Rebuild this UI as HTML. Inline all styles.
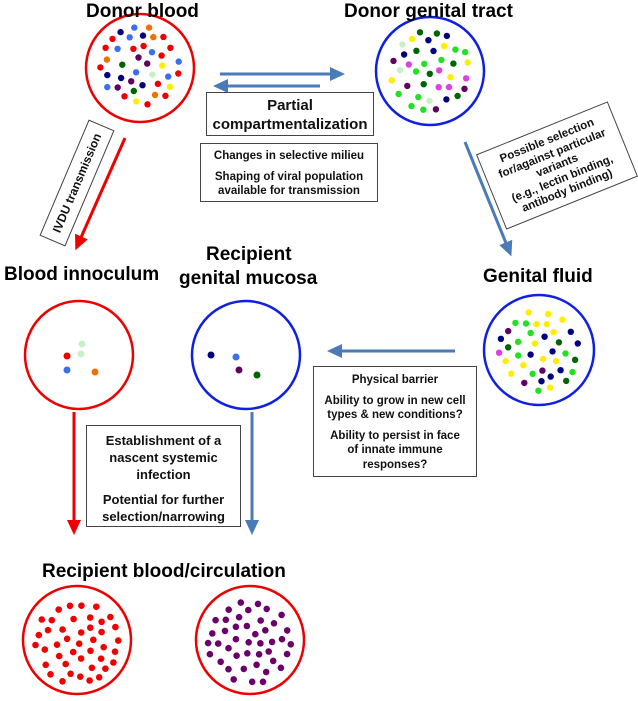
<!DOCTYPE html>
<html><head><meta charset="utf-8"><style>
html,body{margin:0;padding:0;background:#fff;}
body{width:638px;height:701px;position:relative;overflow:hidden;font-family:"Liberation Sans",Arial,sans-serif;}
svg{position:absolute;left:0;top:0;}
.t{position:absolute;font-weight:bold;font-size:19px;color:#000;white-space:nowrap;}
.box{position:absolute;border:1px solid #444;background:#fff;text-align:center;font-weight:bold;color:#111;box-sizing:border-box;}
.box p{margin:0;}
</style></head><body>
<svg width="638" height="701" viewBox="0 0 638 701">
<defs>
<marker id="rb" markerWidth="16" markerHeight="14" refX="6" refY="7" orient="auto" markerUnits="userSpaceOnUse"><path d="M0,0 L15,7 L0,14 Z" fill="#e00"/></marker>
<marker id="bb" markerWidth="16" markerHeight="14" refX="6" refY="7" orient="auto" markerUnits="userSpaceOnUse"><path d="M0,0 L15,7 L0,14 Z" fill="#4a7ab8"/></marker>
</defs>
<g fill="none" stroke-width="2.5">
<circle cx="140" cy="68" r="54" stroke="#e00"/>
<circle cx="430" cy="71" r="54" stroke="#1020e0"/>
<circle cx="79" cy="355" r="54" stroke="#e00"/>
<circle cx="246" cy="355" r="54" stroke="#1020e0"/>
<circle cx="539" cy="350" r="55" stroke="#1020e0"/>
<circle cx="77" cy="640" r="54" stroke="#e00"/>
<circle cx="250" cy="640" r="54" stroke="#e00"/>
</g>
<g stroke-width="3" fill="none">
<line x1="220" y1="74" x2="336" y2="74" stroke="#4a7ab8" marker-end="url(#bb)"/>
<line x1="320" y1="86" x2="222" y2="86" stroke="#4a7ab8" marker-end="url(#bb)"/>
<line x1="125" y1="138" x2="79" y2="242" stroke="#e00" marker-end="url(#rb)"/>
<line x1="465" y1="142" x2="508" y2="248" stroke="#4a7ab8" marker-end="url(#bb)"/>
<line x1="455" y1="351" x2="336" y2="351" stroke="#4a7ab8" marker-end="url(#bb)"/>
<line x1="74" y1="412" x2="74" y2="526" stroke="#e00" marker-end="url(#rb)"/>
<line x1="252" y1="412" x2="252" y2="526" stroke="#4a7ab8" marker-end="url(#bb)"/>
</g>
<g fill="#e00">
<circle cx="67" cy="356" r="3.5"/><circle cx="81" cy="354" r="3.5" fill="#c8f0c8"/><circle cx="82" cy="344" r="3.5" fill="#c8f0c8"/><circle cx="67" cy="370" r="3.5" fill="#3a6ff0"/><circle cx="95" cy="372" r="3.5" fill="#f07000"/>
</g>
<g>
<circle cx="211" cy="355" r="3.5" fill="#000080"/><circle cx="236" cy="357" r="3.5" fill="#3a6ff0"/><circle cx="239" cy="370" r="3.5" fill="#600060"/><circle cx="257" cy="375" r="3.5" fill="#006400"/>
</g>
<g id="dots"></g>
</svg>

<div class="t" style="left:86px;top:1px;">Donor blood</div>
<div class="t" style="left:344px;top:1px;">Donor genital tract</div>
<div class="t" style="left:4px;top:264px;">Blood innoculum</div>
<div class="t" style="left:206px;top:244px;">Recipient</div>
<div class="t" style="left:179px;top:268px;">genital mucosa</div>
<div class="t" style="left:483px;top:266px;">Genital fluid</div>
<div class="t" style="left:42px;top:561px;">Recipient blood/circulation</div>

<div class="box" style="left:206px;top:92px;width:168px;height:44px;font-size:15px;line-height:19px;padding-top:3px;">Partial<br>compartmentalization</div>
<div class="box" style="left:200px;top:143px;width:178px;height:59px;font-size:11.5px;line-height:14px;padding-top:5px;"><p>Changes in selective milieu</p><p style="margin-top:7px">Shaping of viral population<br>available for transmission</p></div>
<div class="box" style="left:313px;top:366px;width:164px;height:111px;font-size:11.5px;line-height:14.5px;padding-top:6px;"><p>Physical barrier</p><p style="margin-top:6px">Ability to grow in new cell<br>types &amp; new conditions?</p><p style="margin-top:6px">Ability to persist in face<br>of innate immune<br>responses?</p></div>
<div class="box" style="left:86px;top:425px;width:155px;height:102px;font-size:13px;line-height:17px;padding-top:6px;"><p>Establishment of a<br>nascent systemic<br>infection</p><p style="margin-top:8px">Potential for further<br>selection/narrowing</p></div>
<div class="box" style="left:14px;top:169px;width:126px;height:28px;font-size:12px;line-height:26px;transform:rotate(-67deg);">IVDU transmission</div>
<div class="box" style="left:486px;top:125px;width:142px;height:81px;font-size:11.5px;line-height:13.5px;padding-top:7px;transform:rotate(-22deg);">Possible selection<br>for/against particular<br>variants<br>(e.g., lectin binding,<br>antibody binding)</div>

<script>
(function(){
var s=12345;function r(){s=(s*16807)%2147483647;return s/2147483647;}
var g=document.getElementById('dots');
function fill(cx,cy,R,n,cols,rad){
 var pts=[],tries=0;
 while(pts.length<n&&tries<8000){tries++;
  var a=r()*6.283,d=Math.sqrt(r())*R,x=cx+d*Math.cos(a),y=cy+d*Math.sin(a),ok=true;
  for(var i=0;i<pts.length;i++){var dx=pts[i][0]-x,dy=pts[i][1]-y;if(dx*dx+dy*dy<100){ok=false;break;}}
  if(ok)pts.push([x,y]);}
 pts.forEach(function(p){var c=document.createElementNS('http://www.w3.org/2000/svg','circle');
  c.setAttribute('cx',p[0].toFixed(1));c.setAttribute('cy',p[1].toFixed(1));c.setAttribute('r',rad||'3.2');
  c.setAttribute('fill',cols[Math.floor(r()*cols.length)]);g.appendChild(c);});
}
fill(140,66,40,44,['#e00','#e00','#3a6ff0','#006400','#000080','#f07000','#ffee00','#c8f0c8','#600060']);
fill(430,71,40,48,['#22e022','#22e022','#006400','#ffee00','#e040e0','#600060','#000080','#c8f0c8']);
fill(539,352,41,52,['#22e022','#22e022','#22e022','#ffee00','#ffee00','#006400','#e040e0','#000080','#600060']);
fill(77,642,42,50,['#f00000'],'3.3');
fill(250,642,42,50,['#6a006a'],'3.3');
})();
</script>
</body></html>
